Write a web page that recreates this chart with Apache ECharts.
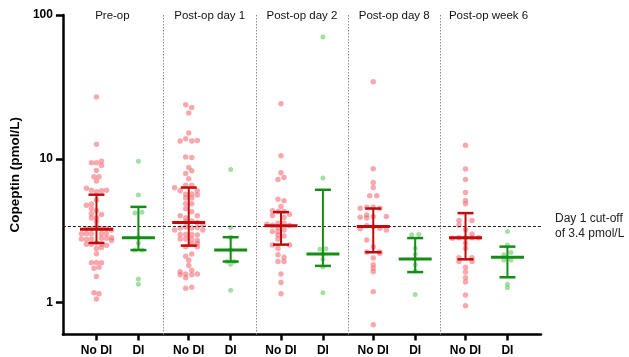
<!DOCTYPE html>
<html>
<head>
<meta charset="utf-8">
<script src="https://cdn.jsdelivr.net/npm/echarts@6/dist/echarts.min.js"></script>
<style>
  html, body { margin: 0; padding: 0; background: #fff; }
  #chart { width: 629px; height: 357px; }
</style>
</head>
<body>
<div id="chart"></div>
<script>
// groups along the x axis (value axis, 1 unit ~ 42px)
var groupNames = ['Pre-op', 'Post-op day 1', 'Post-op day 2', 'Post-op day 8', 'Post-op week 6'];
var groupTitleX = [1.18, 3.5, 5.7, 7.9, 10.15];
var catLabels = ['No DI', 'DI', 'No DI', 'DI', 'No DI', 'DI', 'No DI', 'DI', 'No DI', 'DI'];
var catX = [0.8, 1.8, 3.0, 4.0, 5.2, 6.2, 7.4, 8.4, 9.6, 10.6];
var separatorsX = [2.4, 4.6, 6.8, 9.0];
var yTicks = [1, 10, 100];
var cutoff = 3.4;

// points: [jitter column, copeptin pmol/L]
var preNo = [[0,26.9],[0,12.6],[-1,9.4],[0,9.4],[1,9.6],[1,9.0],[0,8.3],[-0.5,7.5],[0.5,7.5],[0,7.0],
  [-2,6.25],[-1,6.05],[0,5.9],[1,6.0],[2,6.05],[0,5.2],[-2,4.75],[-1,4.85],[-1,4.5],[0,4.35],
  [-1,4.15],[1,4.1],[-1,3.87],[0,3.87],[0,3.66],[-2,3.26],[-1,3.26],[0,3.38],[1,3.26],[2,3.26],[3,3.2],
  [-3,3.01],[-2,3.01],[-1,3.01],[1,3.01],[2,3.01],[-3,2.77],[-2,2.75],[-1,2.77],[1,2.8],[2,2.8],[3,2.82],[3,2.7],
  [-2,2.55],[-1,2.55],[0,2.6],[1,2.55],[2,2.5],[0,2.38],[1,2.42],[0,2.19],[-1,1.89],[0,1.9],[1,1.89],
  [-0.5,1.73],[0.5,1.76],[0,1.52],[-0.5,1.17],[0.5,1.15],[0,1.06]];
var preDi = [[0,9.6],[0,5.6],[-0.7,4.2],[0.7,4.25],[0,2.85],[0,2.6],[-0.7,2.32],[0.7,2.32],[0,1.46],[0,1.34]];
var d1No = [[-0.6,23.8],[0.6,22.7],[0,20.8],[0,15.1],[-1.7,13.3],[-0.6,13.8],[0.6,13.3],[1.7,13.4],
  [-0.6,10.3],[0.6,10.2],[0,8.7],[0.6,8.25],[-0.6,7.9],[0,7.26],[-2.8,6.3],[-1.7,6.0],[-0.6,6.56],[0.6,6.56],[1.7,6.0],
  [-0.6,5.66],[0.6,5.7],[1.7,5.6],[-0.6,5.33],[0.6,5.33],[-0.6,4.86],[0.6,4.86],[-0.6,4.49],[0.6,4.28],
  [-1.7,4.01],[-0.6,3.87],[1.7,4.01],[-0.6,3.65],[0.6,3.7],[1.7,3.6],[2.8,3.47],
  [-2.8,3.2],[-1.7,3.3],[-0.6,3.35],[0.6,3.3],[1.7,3.33],[2.8,3.2],[-1.7,2.98],[-0.6,2.98],[0.6,2.98],[1.7,2.95],
  [-1.7,2.77],[-0.6,2.77],[0.6,2.77],[1.7,2.7],[-0.6,2.45],[0.6,2.58],[1.7,2.58],[1.7,2.45],
  [0.6,2.18],[-0.6,2.1],[0,1.97],[0,1.81],[-1.7,1.64],[0.6,1.68],[-1.7,1.56],[-0.6,1.58],[0.6,1.56],[1.7,1.58],
  [-0.6,1.49],[-0.6,1.26],[0.6,1.28]];
var d1Di = [[0,8.43],[0,3.33],[0,2.85],[0,2.32],[-0.7,1.93],[0.7,1.93],[0,1.85],[0,1.22]];
var d2No = [[0,24.1],[0,10.5],[0,8.0],[-0.6,7.18],[0.6,7.41],[-0.6,5.24],[0.6,5.1],[0,4.66],
  [-1.7,4.35],[-0.6,4.3],[0.6,4.3],[1.7,4.12],[-1.7,4.03],[0.6,3.9],
  [-2.8,3.5],[-1.7,3.45],[-0.6,3.57],[0.6,3.57],[1.7,3.45],[-0.6,3.33],[0.6,3.2],[-1.7,3.12],[-0.6,3.12],
  [-0.6,2.95],[0.6,2.9],[-0.6,2.77],[-1.7,2.52],[1.7,2.52],[-0.6,2.39],[-0.6,2.15],[0.6,2.07],
  [-0.6,1.93],[0.6,1.93],[0,1.58],[0,1.38],[0,1.15]];
var d2Di = [[0,70.3],[0,7.34],[-0.6,2.35],[0.6,2.37],[0,2.18],[0,2.0],[0,1.77],[0,1.17]];
var d8No = [[0,34.3],[0,8.52],[0,6.84],[0,6.31],[-0.7,5.53],[0.7,5.53],
  [-2.6,4.53],[-1.3,4.61],[0,4.6],[1.3,4.53],[-2.6,3.93],[-1.3,4.06],[-1.3,3.87],[0,3.97],[2.6,3.97],
  [-2.6,3.26],[-1.3,3.42],[0,3.35],[1.3,3.29],[2.6,3.2],[-1.3,2.73],[0,2.45],[-1.3,2.25],[1.3,2.25],[1.3,2.2],
  [0,2.04],[0,1.83],[0,1.73],[0,1.64],[0,1.19],[0,0.70]];
var d8Di = [[-0.7,2.96],[0.7,2.98],[0,2.39],[0,2.18],[0,2.01],[0,1.83],[0,1.66],[0,1.14]];
var w6No = [[0,12.4],[0,8.48],[0,7.18],[0,5.83],[0,5.13],[0,4.86],[-1.3,3.72],[1.3,3.72],[-1.3,3.47],
  [0,3.21],[1.3,3.0],[-2.6,2.8],[-1.3,2.83],[0,2.83],[1.3,2.83],[2.6,2.83],[0,2.59],[0,2.39],
  [-1.3,2.05],[-1.3,1.93],[1.3,2.05],[1.3,1.93],[0,1.76],[0,1.63],[0,1.49],[0,1.39],[0,1.13],[0,0.95]];
var w6Di = [[0,3.12],[0,2.52],[-0.7,2.15],[0.7,2.23],[-0.7,1.98],[0.7,1.98],[0,1.34],[0,1.27]];

var groupsData = [preNo, preDi, d1No, d1Di, d2No, d2Di, d8No, d8Di, w6No, w6Di];

// median and interquartile range, per category
var medians = [3.24, 2.83, 3.6, 2.32, 3.42, 2.18, 3.38, 2.01, 2.83, 2.07];
var q1s     = [2.60, 2.32, 2.49, 1.93, 2.53, 1.80, 2.24, 1.63, 2.00, 1.50];
var q3s     = [5.63, 4.63, 6.31, 2.85, 4.26, 6.09, 4.51, 2.81, 4.19, 2.45];

var JIT = 0.12;
var noDiPts = [], diPts = [];
for (var i = 0; i < groupsData.length; i++) {
  for (var j = 0; j < groupsData[i].length; j++) {
    var p = [catX[i] + groupsData[i][j][0] * JIT, groupsData[i][j][1]];
    if (i % 2 == 0) noDiPts.push(p); else diPts.push(p);
  }
}
var barRows = [];
for (var i = 0; i < catX.length; i++) {
  barRows.push([catX[i], medians[i], q1s[i], q3s[i], i % 2]);
}
var titleRows = [];
for (var i = 0; i < groupNames.length; i++) {
  titleRows.push({ value: [groupTitleX[i], 100], name: groupNames[i] });
}

var sepLines = [];
for (var i = 0; i < separatorsX.length; i++) {
  sepLines.push({ xAxis: separatorsX[i], label: { show: false },
    lineStyle: { type: [1.5, 1.5], color: '#8c8c8c', width: 1 } });
}
sepLines.push({ yAxis: cutoff, lineStyle: { type: [3, 2], color: '#222', width: 1 },
  label: { show: true, position: 'end', distance: 14, formatter: 'Day 1 cut-off\nof 3.4 pmol/L',
    color: '#222', fontSize: 12, lineHeight: 15, align: 'left', fontFamily: 'Liberation Sans' } });

var font = 'Liberation Sans';
var chart = echarts.init(document.getElementById('chart'));
chart.setOption({
  animation: false,
  backgroundColor: '#fff',
  grid: { left: 62, right: 88, top: 15, bottom: 22.5 },
  xAxis: {
    type: 'value', min: 0, max: 11.4,
    splitLine: { show: false },
    axisLine: { lineStyle: { color: '#000', width: 2.5 } },
    axisTick: { customValues: catX, length: 6, lineStyle: { color: '#000', width: 2.5 } },
    axisLabel: {
      customValues: catX, margin: 10, color: '#000', fontWeight: 'bold', fontSize: 12, fontFamily: font,
      formatter: function (v) {
        for (var k = 0; k < catX.length; k++) if (Math.abs(catX[k] - v) < 0.01) return catLabels[k];
        return '';
      }
    }
  },
  yAxis: {
    type: 'log', logBase: 10, min: 0.6, max: 100,
    name: 'Copeptin (pmol/L)', nameLocation: 'middle', nameGap: 30,
    nameTextStyle: { color: '#000', fontWeight: 'bold', fontSize: 13.5, fontFamily: font },
    splitLine: { show: false },
    axisLine: { show: true, lineStyle: { color: '#000', width: 2.5 } },
    axisTick: { customValues: yTicks, length: 7, lineStyle: { color: '#000', width: 2.5 } },
    axisLabel: { customValues: yTicks, margin: 10, color: '#000', fontWeight: 'bold', fontSize: 12, fontFamily: font }
  },
  series: [
    {
      type: 'scatter', symbolSize: 5.5, data: noDiPts, z: 2,
      itemStyle: { color: 'rgba(245,100,108,0.7)' },
      markLine: { silent: true, symbol: 'none', animation: false, data: sepLines }
    },
    {
      type: 'scatter', symbolSize: 5, data: diPts, z: 2,
      itemStyle: { color: 'rgba(95,200,95,0.72)' }
    },
    {
      type: 'custom', data: barRows, z: 5,
      encode: { x: 0, y: [1, 2, 3] },
      renderItem: function (params, api) {
        var x = api.value(0);
        var med = api.coord([x, api.value(1)]);
        var lo = api.coord([x, api.value(2)]);
        var hi = api.coord([x, api.value(3)]);
        var col = api.value(4) == 0 ? '#c20a0a' : '#158c15';
        return {
          type: 'group',
          children: [
            { type: 'line', shape: { x1: hi[0], y1: hi[1], x2: lo[0], y2: lo[1] }, style: { stroke: col, lineWidth: 2 } },
            { type: 'line', shape: { x1: hi[0] - 8, y1: hi[1], x2: hi[0] + 8, y2: hi[1] }, style: { stroke: col, lineWidth: 2.5 } },
            { type: 'line', shape: { x1: lo[0] - 8, y1: lo[1], x2: lo[0] + 8, y2: lo[1] }, style: { stroke: col, lineWidth: 2.5 } },
            { type: 'line', shape: { x1: med[0] - 16.5, y1: med[1], x2: med[0] + 16.5, y2: med[1] }, style: { stroke: col, lineWidth: 3 } }
          ]
        };
      }
    },
    {
      type: 'scatter', symbolSize: 1, data: titleRows, silent: true, z: 6,
      itemStyle: { color: 'rgba(0,0,0,0)' },
      label: { show: true, position: 'top', distance: -7, formatter: '{b}', color: '#111', opacity: 1,
        textBorderWidth: 0, fontSize: 11.5, fontFamily: font }
    }
  ]
});
</script>
</body>
</html>
